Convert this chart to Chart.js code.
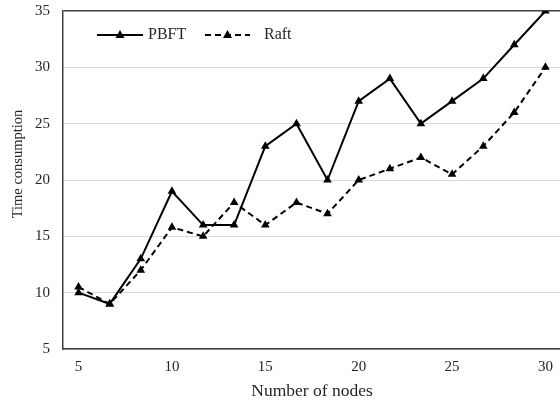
<!DOCTYPE html>
<html>
<head>
<meta charset="utf-8">
<script src="https://cdn.jsdelivr.net/npm/chart.js@4/dist/chart.umd.min.js"></script>
<style>
  html, body { margin: 0; padding: 0; overflow: hidden; background: #fff; }
  #wrap { position: absolute; left: 0; top: 0; width: 566px; height: 405px; }
</style>
</head>
<body>
<div id="wrap"><canvas id="chart"></canvas></div>
<script>
// number of nodes (x positions of the points)
const nodes = [5, 6.67, 8.33, 10, 11.67, 13.33, 15, 16.67, 18.33, 20, 21.67, 23.33, 25, 26.67, 28.33, 30];
const pbft = [10, 9, 13, 19, 16, 16, 23, 25, 20, 27, 29, 25, 27, 29, 32, 35];
const raft = [10.5, 9, 12, 15.8, 15, 18, 16, 18, 17, 20, 21, 22, 20.5, 23, 26, 30];
const xTicks = [5, 10, 15, 20, 25, 30];
const yTicks = [5, 10, 15, 20, 25, 30, 35];

const FONT = "'Liberation Serif', 'Times New Roman', serif";
const TEXT = "#262626";

function toPoints(ys) {
  return nodes.map((x, i) => ({ x: x, y: ys[i] }));
}

// legend inside the plot (top left) and the y axis title
const extras = {
  id: "extras",
  afterDatasetsDraw(chart) {
    const ctx = chart.ctx;
    const a = chart.chartArea;
    const y = a.top + 24;
    const items = [
      { label: "PBFT", x0: a.left + 34, x1: a.left + 80, tx: a.left + 85, dash: [] },
      { label: "Raft", x0: a.left + 142, x1: a.left + 187, tx: a.left + 201, dash: [6, 4] },
    ];
    ctx.save();
    items.forEach((it) => {
      ctx.strokeStyle = "#000";
      ctx.lineWidth = 2;
      ctx.setLineDash(it.dash);
      ctx.beginPath();
      ctx.moveTo(it.x0, y);
      ctx.lineTo(it.x1, y);
      ctx.stroke();
      ctx.setLineDash([]);
      const cx = (it.x0 + it.x1) / 2;
      ctx.fillStyle = "#000";
      ctx.beginPath();
      ctx.moveTo(cx, y - 5);
      ctx.lineTo(cx + 4.5, y + 3);
      ctx.lineTo(cx - 4.5, y + 3);
      ctx.closePath();
      ctx.fill();
      ctx.fillStyle = TEXT;
      ctx.font = "16px " + FONT;
      ctx.textBaseline = "middle";
      ctx.textAlign = "left";
      ctx.fillText(it.label, it.tx, y);
    });

    // y title, sits a bit above the middle like in the original
    ctx.translate(18, 164);
    ctx.rotate(-Math.PI / 2);
    ctx.fillStyle = TEXT;
    ctx.font = "14.5px " + FONT;
    ctx.textAlign = "center";
    ctx.textBaseline = "middle";
    ctx.fillText("Time consumption", 0, 0);
    ctx.restore();
  },
};

new Chart(document.getElementById("chart"), {
  type: "line",
  data: {
    datasets: [
      {
        label: "PBFT",
        data: toPoints(pbft),
        borderColor: "#000",
        backgroundColor: "#000",
        borderWidth: 2,
        pointStyle: "triangle",
        pointRadius: 5,
        pointBackgroundColor: "#000",
        pointBorderColor: "#000",
        pointBorderWidth: 0,
        tension: 0,
      },
      {
        label: "Raft",
        data: toPoints(raft),
        borderColor: "#000",
        backgroundColor: "#000",
        borderWidth: 2,
        borderDash: [6, 4],
        pointStyle: "triangle",
        pointRadius: 5,
        pointBackgroundColor: "#000",
        pointBorderColor: "#000",
        pointBorderWidth: 0,
        tension: 0,
      },
    ],
  },
  options: {
    responsive: true,
    maintainAspectRatio: false,
    animation: false,
    layout: { padding: { top: 11, left: 0, right: 2, bottom: 0 } },
    plugins: {
      legend: { display: false },
      tooltip: { enabled: false },
    },
    scales: {
      x: {
        type: "linear",
        min: 4.1667,
        max: 30.8333,
        afterBuildTicks: (s) => { s.ticks = xTicks.map((v) => ({ value: v })); },
        afterFit: (s) => { s.height = 56; },
        grid: { display: false, drawTicks: false },
        border: { display: true, color: "#404040", width: 1.5 },
        ticks: { padding: 9, color: TEXT, font: { family: FONT, size: 15 } },
        title: {
          display: true,
          text: "Number of nodes",
          color: TEXT,
          font: { family: FONT, size: 17.5 },
          padding: { top: 0, bottom: 3 },
        },
      },
      y: {
        min: 5,
        max: 35,
        afterBuildTicks: (s) => { s.ticks = yTicks.map((v) => ({ value: v })); },
        afterFit: (s) => {
          s.width = 63;
          s.paddingTop = 0;
          s.paddingBottom = 0;
        },
        grid: {
          drawTicks: false,
          color: (c) => (c.tick && c.tick.value === 35 ? "#404040" : "#d9d9d9"),
          lineWidth: (c) => (c.tick && c.tick.value === 35 ? 1.5 : 1),
        },
        border: { display: true, color: "#404040", width: 1.5 },
        ticks: { padding: 13, color: TEXT, font: { family: FONT, size: 15 } },
      },
    },
  },
  plugins: [extras],
});
</script>
</body>
</html>
